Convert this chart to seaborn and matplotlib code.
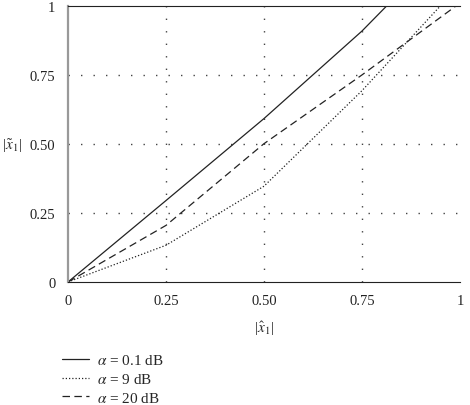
import pandas as pd
import matplotlib
matplotlib.use("Agg")
import matplotlib.pyplot as plt
import seaborn as sns
from matplotlib.lines import Line2D

# data
x_a01 = [0, 0.25, 0.5, 0.75, 0.813]
y_a01 = [0, 0.295, 0.592, 0.909, 1.0]
x_a9 = [0, 0.25, 0.5, 0.75, 0.95]
y_a9 = [0, 0.133, 0.347, 0.693, 1.0]
x_a20 = [0, 0.25, 0.5, 0.75, 0.99]
y_a20 = [0, 0.205, 0.501, 0.75, 1.0]
labels = [r"$\alpha$ = 0.1 dB", r"$\alpha$ = 9 dB", r"$\alpha$ = 20 dB"]
ticks = [0, 0.25, 0.5, 0.75, 1]
tick_labels = ["0", "0.25", "0.50", "0.75", "1"]

sns.set_style("white")
plt.rcParams["font.family"] = ["Liberation Serif", "DejaVu Serif"]
plt.rcParams["mathtext.fontset"] = "stix"

fig = plt.figure(figsize=(4.7, 4.06), dpi=100)
ax = fig.add_axes([0.1447, 0.303, 0.834, 0.680])

styles = ["-", (0, (1, 1.6)), (0, (6, 3.5))]
for (xs, ys), lab, ls in zip([(x_a01, y_a01), (x_a9, y_a9), (x_a20, y_a20)], labels, styles):
    df = pd.DataFrame({"x": xs, "y": ys})
    sns.lineplot(data=df, x="x", y="y", ax=ax, color="#222222", lw=0.9,
                 linestyle=ls, label=lab)

for v in [0.25, 0.5, 0.75]:
    ax.axvline(v, color="#444444", lw=1.0, ls=(0, (1, 8)), zorder=0)
    ax.axhline(v, color="#444444", lw=1.0, ls=(0, (1, 8)), zorder=0)

ax.set_xlim(0, 1)
ax.set_ylim(0, 1)
ax.set_xticks(ticks)
ax.set_xticklabels(tick_labels)
ax.set_yticks(ticks)
ax.set_yticklabels(tick_labels)
ax.tick_params(axis="both", direction="out", length=5, width=0.8, colors="#222222",
               labelsize=10.5, pad=4)
ax.spines["right"].set_visible(False)
ax.spines["top"].set_color("#222222")
ax.spines["bottom"].set_color("#222222")
ax.spines["left"].set_color("#999999")
ax.spines["left"].set_linewidth(1.6)
ax.set_xlabel(r"|$\hat{x}_1$|", fontsize=11, labelpad=8)
ax.set_ylabel("")
fig.text(0.004, 0.64, r"|$\tilde{x}_1$|", ha="left", va="center", fontsize=11)

handles = [Line2D([], [], color="#222222", lw=0.9, ls=s) for s in styles]
ax.get_legend().remove()
fig.legend(handles, labels, loc="upper left", bbox_to_anchor=(0.131, 0.127),
           frameon=False, fontsize=11, handlelength=1.8, handletextpad=0.5,
           labelspacing=0.3, borderaxespad=0, borderpad=0)

fig.savefig("out.png", dpi=100)
